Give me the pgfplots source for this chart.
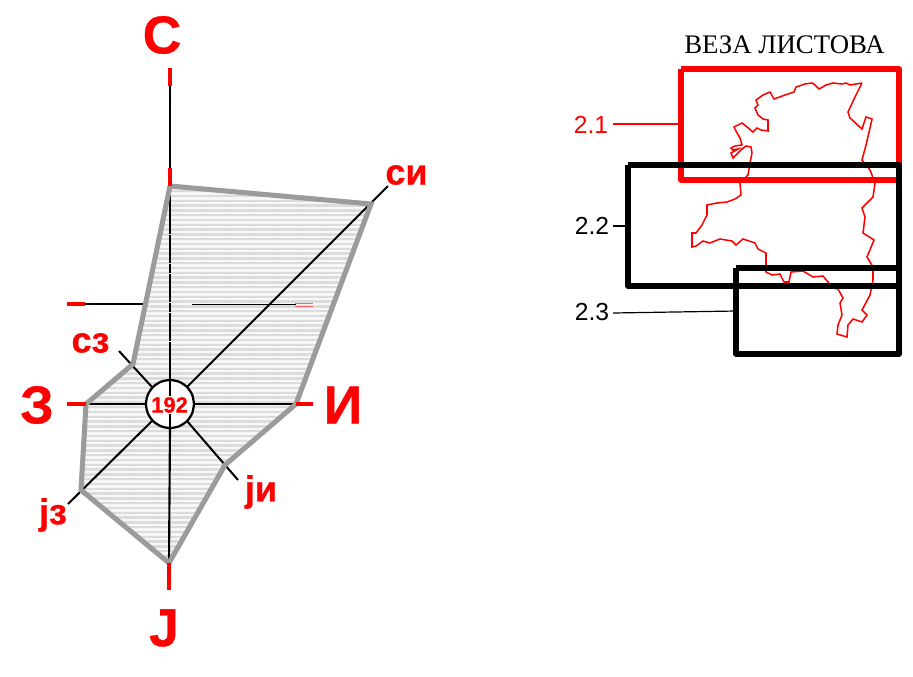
\documentclass[border=0pt]{standalone}
\usepackage{pgfplots}
\pgfplotsset{compat=1.18}
\usepackage{fontspec}
\setmainfont{Liberation Sans}
\newfontfamily\serifcap{Liberation Serif}
\newfontfamily\heavy[BoldFeatures={FakeBold=0.6}]{Liberation Sans}
\usetikzlibrary{patterns.meta}
\definecolor{rd}{RGB}{255,0,0}
\definecolor{gr}{RGB}{155,155,155}
\newcommand{\biglab}{\heavy\fontsize{40}{40}\selectfont\bfseries}
\newcommand{\midlab}{\heavy\fontsize{27}{27}\selectfont\bfseries}
\begin{document}
\begin{tikzpicture}
\begin{axis}[
  scale only axis,
  width=684.75pt,
  height=507pt,
  xmin=0, xmax=913,
  ymin=0, ymax=676,
  y dir=reverse,
  ticks=none,
  axis line style={draw=none},
  clip=false,
]
% hatched wind rose area
\addplot[draw=none, fill=gray!6] coordinates {
  (170,186) (371,204) (296,404) (225,465) (169,563) (81,490) (86,404) (133,364) (170,186)
};
\addplot[draw=none, pattern={Lines[angle=0,distance=3.6pt,line width=1.8pt]}, pattern color=gray!28] coordinates {
  (170,186) (371,204) (296,404) (225,465) (169,563) (81,490) (86,404) (133,364) (170,186)
};
% spokes
\addplot[black, line width=1.6pt] coordinates {(170,86) (170,186)};
\addplot[black, line width=1.7pt, dash pattern=on 7pt off 0.3pt] coordinates {(170,186) (170,380)};
\addplot[black, line width=1.6pt] coordinates {(170,428) (169,563)};
\addplot[black, line width=1.7pt] coordinates {(86,404) (146,404)};
\addplot[black, line width=1.7pt] coordinates {(194,404) (296,404)};
\addplot[black, line width=1.5pt] coordinates {(187,387) (388,186)};
\addplot[black, line width=1.5pt] coordinates {(152,387) (119,351)};
\addplot[black, line width=1.5pt] coordinates {(152,421) (68,504)};
\addplot[black, line width=1.5pt] coordinates {(187,421) (238,480)};
\addplot[black, line width=1.3pt] coordinates {(85,304) (143,304)};
\addplot[black, line width=0.7pt] coordinates {(192,304.5) (296,304.5)};
% polygon outline
\addplot[gr, line width=3.8pt, line join=miter] coordinates {
  (170,186) (371,204) (296,404) (225,465) (169,563) (81,490) (86,404) (133,364) (170,186)
};
% red ticks
\addplot[rd, line width=2.6pt] coordinates {(170,68) (170,86)};
\addplot[rd, line width=2.6pt] coordinates {(170,168) (170,186)};
\addplot[rd, line width=2.6pt] coordinates {(169,563) (169,590)};
\addplot[rd, line width=2.6pt] coordinates {(67,404) (86,404)};
\addplot[rd, line width=2.6pt] coordinates {(296,404) (313,404)};
\addplot[rd, line width=2.6pt] coordinates {(67,304) (85,304)};
\addplot[rd!60, line width=0.7pt] coordinates {(295,303) (313,303)};
\addplot[rd!60, line width=0.7pt] coordinates {(295,306) (313,306)};
% centre circle
\addplot[black, fill=white, line width=1.7pt, smooth] coordinates {
  (194,404) (192.2,413.2) (187,421) (179.2,426.2) (170,428) (160.8,426.2) (153,421) (147.8,413.2)
  (146,404) (147.8,394.8) (153,387) (160.8,381.8) (170,380) (179.2,381.8) (187,387) (192.2,394.8) (194,404)
};
\addplot[black, line width=1.2pt] coordinates {(170,380) (170,396)};
\addplot[black, line width=1.2pt] coordinates {(170,414) (170,428)};
\node[text=rd, font=\heavy\fontsize{16.5}{17}\selectfont\bfseries] at (axis cs:169.5,405) {192};
% direction labels
\node[text=rd, font=\biglab] at (axis cs:162,35) {С};
\node[text=rd, font=\biglab] at (axis cs:37,405) {З};
\node[text=rd, font=\biglab] at (axis cs:343,405) {И};
\node[text=rd, font=\biglab] at (axis cs:164,628) {Ј};
\node[text=rd, font=\midlab] at (axis cs:406.5,175) {си};
\node[text=rd, font=\midlab] at (axis cs:90.5,343) {сз};
\node[text=rd, font=\midlab] at (axis cs:53,515) {јз};
\node[text=rd, font=\midlab] at (axis cs:261,492) {ји};
% sheet index: border
\addplot[rd, line width=1.15pt] coordinates {
  (862,83) (856,84) (850,85) (846,83) (842,84) (833,83) (826,85) (819,89) (815,85) (812,83)
  (805,84) (796,87) (794,92) (785,95) (774,99) (770,92) (763,95) (756,100) (758,105) (755,108)
  (758,115) (763,119) (768,120) (768,131) (761,130) (757,128) (753,132) (747,127) (742,123) (734,127)
  (737,133) (740,138) (742,145) (735,146) (731,148) (733,150) (738,149) (731,153) (733,158) (738,153)
  (741,150) (746,146) (751,147) (752,153) (750,163) (748,175) (744,179) (740,183) (741,195) (735,199)
  (727,202) (717,203) (707,205) (707,215) (702,225) (696,233) (692,233) (692,247) (696,246) (703,241)
  (710,243) (720,239) (732,241) (736,245) (743,239) (755,243) (758,249) (766,253) (766,272) (772,275)
  (780,274) (784,282) (789,282) (791,272) (803,271) (813,277) (823,276) (833,288) (838,289) (843,298)
  (840,303) (842,315) (838,325) (837,334) (847,337) (848,325) (853,319) (862,322) (867,315) (862,310)
  (870,295) (873,280) (873,267) (867,257) (874,240) (863,233) (865,217) (862,208) (873,197) (875,183)
  (870,170) (862,160) (866,145) (870,128) (872,119) (866,117) (862,129) (850,118) (848,112) (855,97)
  (862,83)
};
% sheet frames
\addplot[rd, line width=4pt, line join=round] coordinates {(681,69) (899,69) (899,180) (681,180) (681,69)};
\addplot[black, line width=4pt, line join=round] coordinates {(628,165) (899,165) (899,286) (628,286) (628,165)};
\addplot[black, line width=4pt, line join=round] coordinates {(736,268) (899,268) (899,354) (736,354) (736,268)};
% leaders
\addplot[rd, line width=0.9pt] coordinates {(613,124) (681,124)};
\addplot[black, line width=0.9pt] coordinates {(613,226) (628,226)};
\addplot[black, line width=0.9pt] coordinates {(613,313) (736,311)};
% texts
\node[font=\serifcap\fontsize{20.1}{21}\selectfont] at (axis cs:784.5,44.5) {ВЕЗА ЛИСТОВА};
\node[text=rd, font=\fontsize{18.5}{19}\selectfont] at (axis cs:591,125) {2.1};
\node[font=\fontsize{18.5}{19}\selectfont] at (axis cs:592,226) {2.2};
\node[font=\fontsize{18.5}{19}\selectfont] at (axis cs:592,312) {2.3};
\end{axis}
\end{tikzpicture}
\end{document}
